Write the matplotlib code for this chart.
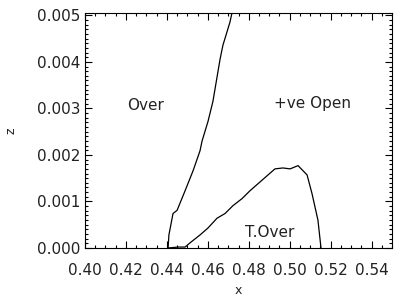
import numpy as np
import matplotlib
matplotlib.use('Agg')
import matplotlib.pyplot as plt
from matplotlib.ticker import MultipleLocator

# boundary between "Over" and "+ve Open"
x_open = [0.4406, 0.4410, 0.4430, 0.4450, 0.4489, 0.4528, 0.4562, 0.4572,
          0.4601, 0.4625, 0.4660, 0.4674, 0.4708, 0.4718]
z_open = [0.0, 0.00028, 0.00074, 0.00081, 0.00123, 0.00166, 0.00209, 0.00230,
          0.00272, 0.00315, 0.00406, 0.00436, 0.00485, 0.00505]

# boundary of the "T.Over" region
x_tover = [0.4406, 0.4454, 0.4489, 0.4513, 0.4562, 0.4601, 0.4645, 0.4684,
           0.4723, 0.4767, 0.4806, 0.4845, 0.4889, 0.4928, 0.4967, 0.5002,
           0.5041, 0.5085, 0.5109, 0.5138, 0.5153]
z_tover = [0.0, 0.00002, 0.00002, 0.00011, 0.00028, 0.00043, 0.00064, 0.00074,
           0.00091, 0.00106, 0.00123, 0.00138, 0.00155, 0.00170, 0.00172, 0.00170,
           0.00177, 0.00157, 0.00117, 0.00060, 0.0]

labels = ['Over', '+ve Open', 'T.Over']
label_x = [0.4298, 0.5112, 0.4904]
label_z = [0.00306, 0.00310, 0.00034]

ink = '#222222'

fig = plt.figure(figsize=(3.94, 2.96), dpi=100)
ax = fig.add_axes([0.2157, 0.1622, 0.7793, 0.7939])

ax.plot(x_open, z_open, color='black', lw=0.9)
ax.plot(x_tover, z_tover, color='black', lw=0.9)

for t, lx, lz in zip(labels, label_x, label_z):
    ax.text(lx, lz, t, fontsize=11, ha='center', va='center', color=ink)

ax.set_xlim(0.40, 0.55)
ax.set_ylim(0.0, 0.00505)
ax.xaxis.set_minor_locator(MultipleLocator(0.005))
ax.yaxis.set_minor_locator(MultipleLocator(0.0001))
ax.set_xticks(np.arange(0.40, 0.541, 0.02))
ax.set_xticklabels(['%.2f' % v for v in np.arange(0.40, 0.541, 0.02)])
ax.set_yticks(np.arange(0.0, 0.0051, 0.001))
ax.set_yticklabels(['%.3f' % v for v in np.arange(0.0, 0.0051, 0.001)])

ax.tick_params(which='both', direction='in', top=True, right=True, width=0.8)
ax.tick_params(which='major', length=5)
ax.tick_params(which='minor', length=2.5)
ax.tick_params(axis='x', which='major', labelsize=11, pad=11, labelcolor=ink)
ax.tick_params(axis='y', which='major', labelsize=11, pad=3, labelcolor=ink)
for s in ax.spines.values():
    s.set_linewidth(0.8)

ax.set_xlabel('x', fontsize=9, labelpad=4, color=ink)
ax.set_ylabel('z', fontsize=9, labelpad=14, color=ink)

fig.savefig('out.png', dpi=100)
